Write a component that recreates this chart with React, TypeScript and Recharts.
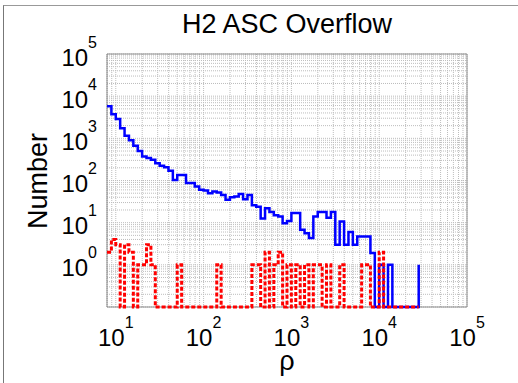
import {
  CartesianGrid,
  Customized,
  Line,
  LineChart,
  ReferenceArea,
  XAxis,
  YAxis,
} from "recharts";

// histogram bins: log10 edges start at 0.9, 20 bins per decade
const binStartLog = 0.9;
const binStepLog = 0.05;

// counts per bin (0 = empty bin, drawn on the axis floor)
const ascCounts = [
  5800, 3700, 2870, 1740, 1150, 900, 670, 500, 370, 340,
  310, 255, 225, 205, 170, 103, 135, 135, 87, 87,
  72, 60, 58, 50, 55, 52, 45, 35, 40, 42,
  48, 36, 45, 26, 24, 12.5, 22, 18, 15, 14,
  9.7, 11, 17, 17, 6.8, 5.6, 4.3, 14, 18, 18,
  13, 18, 3, 10.6, 3, 6, 3, 4.7, 4.7, 4.7,
  1.9, 0, 1, 0, 1, 0, 0, 0, 0, 0,
  0, 1,
];

const overflowCounts = [
  2, 4, 3, 0, 3, 2, 0, 1, 1, 3,
  1, 0, 0, 0, 0, 0, 1, 0, 0, 0,
  0, 0, 0, 0, 0, 1, 0, 0, 0, 0,
  0, 0, 0, 1, 1, 0, 2, 0, 1, 2,
  0, 1, 0, 1, 0, 1, 0, 1, 1, 0,
  1, 0, 0, 1, 0, 0, 0, 0, 1, 1,
  0, 0, 2, 0, 0, 0, 0, 0, 0, 0,
  0, 0,
];

const xTicks = [10, 100, 1000, 10000, 100000];
const yTicks = [1, 10, 100, 1000, 10000, 100000];

const X_MIN = 10 ** 0.9;
const X_MAX = 100000;
const Y_MIN = 0.1;
const Y_MAX = 100000;

const FONT = "'Liberation Sans', Arial, Helvetica, sans-serif";

function logGrid(lo: number, hi: number) {
  const out: number[] = [];
  for (let e = -1; e <= 5; e++) {
    for (let m = 1; m <= 9; m++) {
      const v = m * 10 ** e;
      if (v >= lo * 0.999 && v <= hi * 1.001) out.push(v);
    }
  }
  return out;
}

const gridX = logGrid(X_MIN, X_MAX);
const gridY = logGrid(Y_MIN, Y_MAX);

const data = ascCounts.map((c, i) => ({
  rho: 10 ** (binStartLog + binStepLog * i),
  asc: c > 0 ? c : Y_MIN,
  overflow: overflowCounts[i] > 0 ? overflowCounts[i] : Y_MIN,
}));

function isDecade(v: number, list: number[]) {
  return list.some((t) => Math.abs(t - v) / t < 1e-6);
}

const XTick = (props: any) => {
  const { x, payload } = props;
  if (!isDecade(payload.value, xTicks)) return <g />;
  const exp = Math.round(Math.log10(payload.value));
  return (
    <text x={x} y={346} textAnchor="middle" fontFamily={FONT} fill="#000">
      <tspan fontSize={24}>10</tspan>
      <tspan fontSize={16} dy={-18}>
        {exp}
      </tspan>
    </text>
  );
};

const YTick = (props: any) => {
  const { y, payload } = props;
  if (!isDecade(payload.value, yTicks)) return <g />;
  const exp = Math.round(Math.log10(payload.value));
  return (
    <text x={97} y={y + 11.5} textAnchor="end" fontFamily={FONT} fill="#000">
      <tspan fontSize={24}>10</tspan>
      <tspan fontSize={16} dy={-18}>
        {exp}
      </tspan>
    </text>
  );
};

const Labels = () => (
  <g fontFamily={FONT} fill="#000">
    <text x={287} y={33} fontSize={27} textAnchor="middle">
      H2 ASC Overflow
    </text>
    <text
      x={47}
      y={181}
      fontSize={27}
      textAnchor="middle"
      transform="rotate(-90 47 181)"
    >
      Number
    </text>
    <text x={287} y={370} fontSize={27} textAnchor="middle">
      ρ
    </text>
  </g>
);

export default function App() {
  return (
    <div
      style={{
        position: "absolute",
        left: 0,
        top: 0,
        width: 518,
        height: 383,
        background: "#fff",
        overflow: "hidden",
      }}
    >
      <div
        style={{
          position: "absolute",
          left: 3,
          top: 5,
          width: 520,
          height: 390,
          borderLeft: "1px solid #777",
          borderTop: "1px solid #999",
        }}
      />
      <LineChart
        width={518}
        height={383}
        data={data}
        margin={{ top: 54, right: 51, bottom: 0, left: 0 }}
        style={{ position: "absolute", left: 0, top: 0 }}
      >
        <CartesianGrid stroke="#bdbdbd" strokeDasharray="1 1" />
        <XAxis
          dataKey="rho"
          type="number"
          scale="log"
          domain={[X_MIN, X_MAX]}
          ticks={gridX}
          interval={0}
          height={76}
          axisLine={false}
          tickLine={false}
          tick={<XTick />}
        />
        <YAxis
          type="number"
          scale="log"
          domain={[Y_MIN, Y_MAX]}
          ticks={gridY}
          interval={0}
          width={107}
          axisLine={false}
          tickLine={false}
          tick={<YTick />}
        />
        <ReferenceArea
          x1={X_MIN}
          x2={X_MAX}
          y1={Y_MIN}
          y2={Y_MAX}
          fill="#fff"
          fillOpacity={0}
          stroke="#8c8c8c"
          strokeOpacity={1}
        />
        <Line
          dataKey="asc"
          type="stepAfter"
          stroke="#0000ff"
          strokeWidth={2.5}
          dot={false}
          isAnimationActive={false}
        />
        <Line
          dataKey="overflow"
          type="stepAfter"
          stroke="#ff0000"
          strokeWidth={3}
          strokeDasharray="4 2"
          dot={false}
          isAnimationActive={false}
        />
        <Customized component={Labels} />
      </LineChart>
    </div>
  );
}
